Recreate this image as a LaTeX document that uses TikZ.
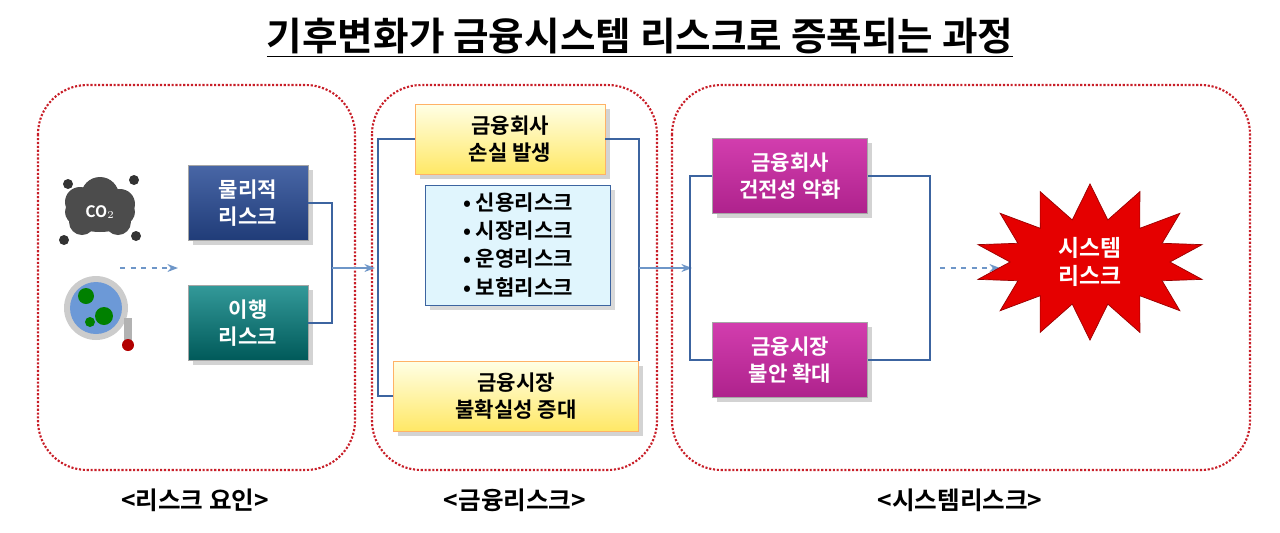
\documentclass[tikz,border=0pt]{standalone}
\usepackage{fontspec}
\setmainfont{Noto Sans CJK KR}[BoldFont={Noto Sans CJK KR Bold}]
\usetikzlibrary{positioning,shapes.symbols,shadows,arrows.meta}
\definecolor{panelred}{RGB}{200,30,40}
\definecolor{linkblue}{RGB}{60,100,160}
\definecolor{arrowblue}{RGB}{110,150,200}
\definecolor{physblue}{RGB}{40,75,150}
\definecolor{magfill}{RGB}{205,40,165}
\tikzset{
  panel/.style = {draw=panelred, densely dotted, line width=1.2pt, rounded corners=28pt},
  box/.style = {draw=gray!70, minimum width=2.4cm, minimum height=1.5cm, align=center,
                font=\fontsize{12}{15}\selectfont\bfseries, drop shadow={opacity=0.35}},
  bluebox/.style = {box, top color=physblue!85, bottom color=physblue!80!black, text=white},
  tealbox/.style = {box, top color=teal!80, bottom color=teal!70!black, text=white},
  yelbox/.style = {box, top color=yellow!10, bottom color=yellow!70!orange!60, draw=orange!60},
  magbox/.style = {box, top color=magfill!90, bottom color=magfill!85!black, text=white, minimum width=3.1cm},
  link/.style = {draw=linkblue, line width=0.8pt},
  flow/.style = {draw=arrowblue, line width=1.6pt, dashed, -{Stealth[length=6pt]}},
  tag/.style = {font=\fontsize{14}{16}\selectfont\bfseries}
}
\begin{document}
\begin{tikzpicture}[x=0.02cm,y=-0.02cm]
\useasboundingbox (0,0) rectangle (1280,532);
% title
\node[font=\fontsize{22}{24}\selectfont\bfseries] (title) at (640,38) {\underline{기후변화가 금융시스템 리스크로 증폭되는 과정}};
% panels
\draw[panel] (38,85) rectangle (355,470);
\draw[panel] (372,85) rectangle (657,470);
\draw[panel] (672,85) rectangle (1250,470);
\node[tag] (t1) at (195,500) {<리스크 요인>};
\node[tag] (t2) at (515,500) {<금융리스크>};
\node[tag] (t3) at (960,500) {<시스템리스크>};
% icons
\fill[gray!60!black] (100,212) ellipse [x radius=0.7cm, y radius=0.4cm];
\foreach \cx/\cy/\r in {80/202/0.3, 100/196/0.38, 120/204/0.3, 82/222/0.26, 118/222/0.26}
  \fill[gray!60!black] (\cx,\cy) circle [radius=\r cm];
\foreach \cx/\cy in {68/184, 134/180, 64/240, 136/236}
  \fill[gray!40!black] (\cx,\cy) circle [radius=0.1cm];
\node[text=white, font=\small\bfseries] (co2) at (100,212) {CO$_2$};
\fill[gray!40] (96,308) circle [radius=0.64cm];
\fill[cyan!50!blue!60] (96,308) circle [radius=0.52cm];
\fill[green!50!black] (86,296) circle [radius=0.16cm] (104,316) circle [radius=0.18cm] (90,322) circle [radius=0.1cm];
\fill[gray!60] (124,318) rectangle (132,342);
\fill[red!70!black] (128,345) circle [radius=0.12cm];
% boxes panel 1
\node[bluebox] (phys) at (248,203) {물리적\\리스크};
\node[tealbox] (trans) at (248,323) {이행\\리스크};
\coordinate (m1) at (332,268);
\draw[flow] (120,268) -- (178,268);
\draw[link] (phys.east) -| (m1) |- (trans.east);
\draw[flow, solid] (m1) -- (375,268);
% panel 2
\node[yelbox, minimum width=3.8cm, minimum height=1.4cm] (loss) at (510,139) {금융회사\\손실 발생};
\node[draw=linkblue, fill=cyan!12, minimum width=3.7cm, minimum height=2.4cm, align=left,
      font=\fontsize{12}{16}\selectfont\bfseries, drop shadow={opacity=0.3}] (list) at (518,245)
      {• 신용리스크\\• 시장리스크\\• 운영리스크\\• 보험리스크};
\node[yelbox, minimum width=4.9cm, minimum height=1.4cm] (unc) at (516,396) {금융시장\\불확실성 증대};
\coordinate (l2) at (378,268);
\coordinate (r2) at (unc.east |- m1);
\draw[link] (loss.west) -| (l2) |- (unc.west);
\draw[link] (loss.east) -| (unc.north east);
\draw[flow, solid] (r2) -- (692,268);
% panel 3
\node[magbox] (sound) at (790,176) {금융회사\\건전성 악화};
\node[magbox] (inst) at (790,360) {금융시장\\불안 확대};
\coordinate (l3) at (690,268);
\coordinate (r3) at (930,268);
\draw[link] (sound.west) -| (l3) |- (inst.west);
\draw[link] (sound.east) -| (r3) |- (inst.east);
\draw[flow] (940,268) -- (1000,268);
\node[starburst, random starburst=0, starburst points=14, starburst point height=0.7cm,
      fill=red!90!black, draw=red!60!black, minimum width=4.6cm, minimum height=3.0cm,
      text=white, align=center, font=\fontsize{13}{16}\selectfont\bfseries] (sys) at (1090,262) {시스템\\리스크};
\end{tikzpicture}
\end{document}
